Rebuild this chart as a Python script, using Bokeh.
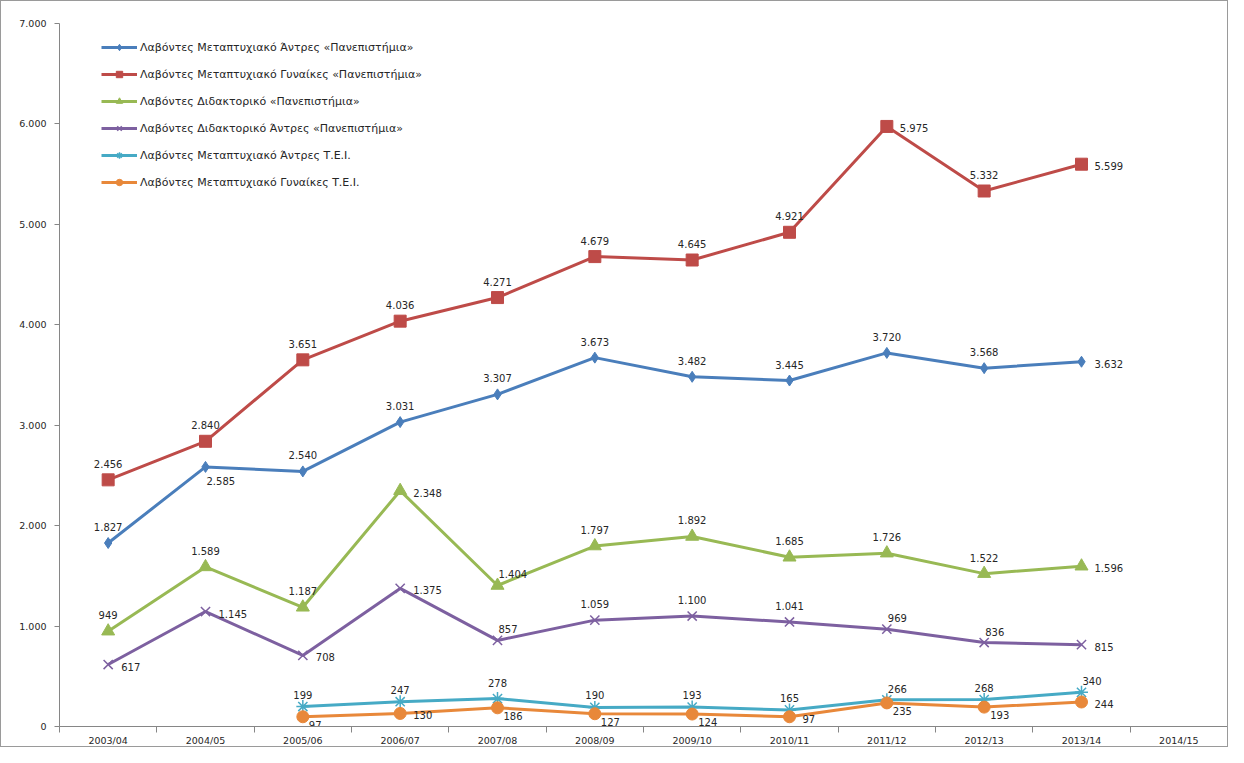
from bokeh.plotting import figure
from bokeh.models import Range1d, FixedTicker, ColumnDataSource, Legend, LegendItem
from bokeh.core.properties import value
from bokeh.embed import file_html
from bokeh.resources import INLINE
import math

nan = float("nan")

categories = ["2003/04", "2004/05", "2005/06", "2006/07", "2007/08", "2008/09",
              "2009/10", "2010/11", "2011/12", "2012/13", "2013/14", "2014/15"]

masters_men_uni = [1827, 2585, 2540, 3031, 3307, 3673, 3482, 3445, 3720, 3568, 3632, nan]
masters_women_uni = [2456, 2840, 3651, 4036, 4271, 4679, 4645, 4921, 5975, 5332, 5599, nan]
doctorate_uni = [949, 1589, 1187, 2348, 1404, 1797, 1892, 1685, 1726, 1522, 1596, nan]
doctorate_men_uni = [617, 1145, 708, 1375, 857, 1059, 1100, 1041, 969, 836, 815, nan]
masters_men_tei = [nan, nan, 199, 247, 278, 190, 193, 165, 266, 268, 340, nan]
masters_women_tei = [nan, nan, 97, 130, 186, 127, 124, 97, 235, 193, 244, nan]

series_names = [
    "Λαβόντες Μεταπτυχιακό Άντρες «Πανεπιστήμια»",
    "Λαβόντες Μεταπτυχιακό Γυναίκες «Πανεπιστήμια»",
    "Λαβόντες Διδακτορικό «Πανεπιστήμια»",
    "Λαβόντες Διδακτορικό Άντρες «Πανεπιστήμια»",
    "Λαβόντες Μεταπτυχιακό Άντρες Τ.Ε.Ι.",
    "Λαβόντες Μεταπτυχιακό Γυναίκες Τ.Ε.Ι.",
]

# label placement codes per point (style, not data)
label_pos = [
    ["A", "BR", "A", "A", "A", "A", "A", "A", "A", "A", "R", None],
    ["A", "A", "A", "A", "A", "A", "A", "A", "R", "A", "R", None],
    ["A", "A", "A", "R", "AR", "A", "A", "A", "A", "A", "R", None],
    ["R", "R", "R", "R", "AR", "A", "A", "A", "AR", "AR", "R", None],
    [None, None, "T", "T", "A", "T", "T", "T", "AR", "T", "AR", None],
    [None, None, "RB", "R", "RB", "RB", "RB", "R", "RB", "RB", "R", None],
]
pos_style = {
    "A": (0, -16, "center"),
    "T": (0, -12, "center"),
    "R": (13, 2, "left"),
    "BR": (1, 14, "left"),
    "AR": (1, -11, "left"),
    "RB": (6, 8, "left"),
}

colors = ["#4A7EBB", "#BE4B48", "#98B954", "#7D60A0", "#46AAC5", "#E8883A"]
markers = ["diamond", "square", "triangle", "x", "asterisk", "circle"]
msizes = [11, 12, 13, 13, 13, 12]
all_series = [masters_men_uni, masters_women_uni, doctorate_uni,
              doctorate_men_uni, masters_men_tei, masters_women_tei]

p = figure(width=1228, height=747, output_backend="svg", toolbar_location=None,
           x_range=Range1d(0, len(categories)), y_range=Range1d(0, 7000),
           min_border_left=58, min_border_right=2, min_border_top=22,
           min_border_bottom=18)
p.xgrid.visible = False
p.ygrid.visible = False
p.outline_line_color = None
p.background_fill_color = "white"
p.border_fill_color = "white"
p.styles = {"border": "1px solid #9a9a9a", "box-sizing": "border-box"}

xs = [i + 0.5 for i in range(len(categories))]

# axes
p.xaxis.ticker = FixedTicker(ticks=xs, minor_ticks=list(range(len(categories) + 1)))
p.xaxis.major_label_overrides = {x: c for x, c in zip(xs, categories)}
p.xaxis.major_tick_out = 0
p.xaxis.major_tick_in = 0
p.xaxis.minor_tick_out = 6
p.xaxis.minor_tick_in = 0
p.xaxis.minor_tick_line_color = "#868686"
p.xaxis.axis_line_color = "#868686"
p.xaxis.major_label_standoff = 2
p.xaxis.major_label_text_font = "DejaVu Sans"
p.xaxis.major_label_text_font_size = "9.5px"
p.xaxis.major_label_text_color = "#262626"

yticks = list(range(0, 7001, 1000))
p.yaxis.ticker = FixedTicker(ticks=yticks, minor_ticks=[])
p.yaxis.major_label_overrides = {t: (f"{t:,}".replace(",", ".")) for t in yticks}
p.yaxis.major_tick_out = 5
p.yaxis.major_tick_in = 0
p.yaxis.major_tick_line_color = "#868686"
p.yaxis.axis_line_color = "#868686"
p.yaxis.major_label_standoff = 8
p.yaxis.major_label_text_font = "DejaVu Sans"
p.yaxis.major_label_text_font_size = "9.5px"
p.yaxis.major_label_text_color = "#262626"

items = []
for k, (vals, name) in enumerate(zip(all_series, series_names)):
    src = ColumnDataSource(dict(x=xs, y=vals))
    ln = p.line("x", "y", source=src, line_color=colors[k], line_width=3)
    mk = p.scatter("x", "y", source=src, marker=markers[k], size=msizes[k],
                   fill_color=colors[k], line_color=colors[k],
                   line_width=1.5 if markers[k] in ("x", "asterisk") else 1)
    items.append(LegendItem(label=name, renderers=[ln, mk]))

    lx, ly, lt, dx, dy, al = [], [], [], [], [], []
    for x, v, code in zip(xs, vals, label_pos[k]):
        if v is None or (isinstance(v, float) and math.isnan(v)) or code is None:
            continue
        ox, oy, align = pos_style[code]
        lx.append(x); ly.append(v)
        lt.append(f"{int(v):,}".replace(",", "."))
        dx.append(ox); dy.append(oy); al.append(align)
    lsrc = ColumnDataSource(dict(x=lx, y=ly, t=lt, dx=dx, dy=dy, al=al))
    p.text("x", "y", text="t", source=lsrc, x_offset="dx", y_offset="dy",
           text_align="al", text_baseline="middle",
           text_font=value("DejaVu Sans"), text_font_size="10px",
           text_color="#262626")

legend = Legend(items=items, location=(42, 536), border_line_color=None,
                background_fill_alpha=0, label_text_font="DejaVu Sans",
                label_text_font_size="11px", label_text_color="#262626",
                glyph_width=36, glyph_height=16, label_height=16,
                spacing=11, padding=5, label_standoff=3)
p.add_layout(legend)

open("out.html", "w").write(file_html(p, INLINE))
